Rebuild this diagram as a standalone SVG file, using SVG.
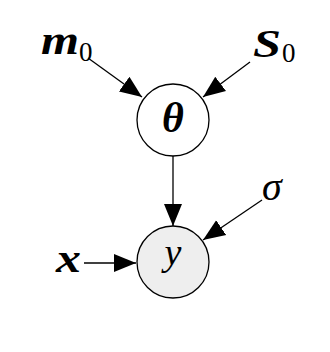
<svg xmlns="http://www.w3.org/2000/svg" width="330" height="352" viewBox="0 0 330 352">
<defs>
<marker id="ah" markerWidth="22" markerHeight="20" refX="22" refY="10" orient="auto" markerUnits="userSpaceOnUse">
<path d="M0,1 L22,10 L0,19 Z" fill="#000"/>
</marker>
<style>
.node{stroke:#000;stroke-width:1.3}
.edge{stroke:#000;stroke-width:1.3;fill:none;marker-end:url(#ah)}
.m{font-family:"Liberation Serif","DejaVu Serif",serif;font-style:italic}
.b{font-weight:bold}
.sub{font-family:"Liberation Serif","DejaVu Serif",serif;font-style:normal;font-weight:normal}
</style>
</defs>
<rect width="330" height="352" fill="#fff"/>
<g id="connectors">
<line class="edge" x1="88" y1="58" x2="142" y2="97"/>
<line class="edge" x1="250" y1="62" x2="203" y2="97"/>
<line class="edge" x1="173" y1="156" x2="173" y2="226"/>
<line class="edge" x1="262" y1="200" x2="203" y2="240"/>
<line class="edge" x1="84" y1="263" x2="136" y2="263"/>
</g>
<g id="node-theta">
<circle class="node" cx="173" cy="120" r="36" fill="#fff"/>
<text class="m b" x="173" y="132" font-size="42" text-anchor="middle">θ</text>
</g>
<g id="node-y">
<circle class="node" cx="173" cy="262" r="36" fill="#eeeeee"/>
<text class="m" x="173" y="265" font-size="38" text-anchor="middle">y</text>
</g>
<g id="node-m0">
<text class="m b" x="41" y="54" font-size="40" textLength="38" lengthAdjust="spacingAndGlyphs">m</text>
<text class="sub" x="79" y="61" font-size="27">0</text>
</g>
<g id="node-S0">
<text class="m b" x="253" y="57" font-size="40" textLength="28" lengthAdjust="spacingAndGlyphs">S</text>
<text class="sub" x="282" y="62" font-size="27">0</text>
</g>
<g id="node-sigma">
<text class="m" x="262" y="200" font-size="40">σ</text>
</g>
<g id="node-x">
<text class="m b" x="56" y="272" font-size="40" textLength="25" lengthAdjust="spacingAndGlyphs">x</text>
</g>
</svg>
